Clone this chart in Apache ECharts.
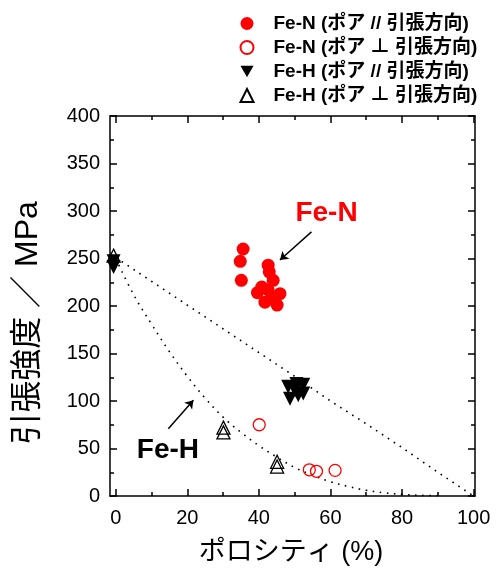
<!DOCTYPE html>
<html>
<head>
<meta charset="utf-8">
<script src="https://cdn.jsdelivr.net/npm/echarts@6/dist/echarts.min.js"></script>
<style>
  html, body { margin: 0; padding: 0; background: #fff; }
  #chart { width: 498px; height: 572px; }
</style>
</head>
<body>
<div id="chart"></div>
<script>
  // 読み取り値 (ポロシティ %, 引張強度 MPa)
  const feNParallel = [
    [35.6, 260], [34.8, 247], [35.1, 227], [42.6, 243], [42.9, 236], [44.0, 227],
    [40.8, 220], [39.6, 214], [42.6, 217], [45.9, 213], [41.7, 204], [45.1, 201], [44.0, 208],
  ];
  const feNPerp = [[40.1, 75], [54.1, 27.6], [56.1, 26], [61.3, 27]];
  const feHParallel = [
    [-0.6, 247], [-0.6, 241], [48.2, 115], [50.5, 118], [52.4, 117], [48.7, 102.5],
    [51.0, 106], [52.4, 108], [50.1, 111],
  ];
  const feHPerp = [[-0.6, 253], [30.1, 72], [30.1, 67], [45.1, 36], [45.1, 31]];

  // 点線 (フィット曲線) — 図から読んだ点
  const fitUpper = [[0, 251], [20, 201], [40, 151], [50, 126], [60, 100], [70, 76], [80, 51], [90, 25], [100, 0]];
  const fitLower = [
    [0, 250], [5, 212], [10, 181], [15, 152], [20, 126], [25, 103], [30, 83], [35, 67], [40, 53],
    [45, 41], [50, 30], [55, 22], [60, 15], [65, 10], [70, 6], [75, 3.4], [80, 1.7], [85, 0.7], [90, 0.2],
  ];

  const xMajorTicks = [0, 20, 40, 60, 80, 100];
  const xMinorTicks = [10, 30, 50, 70, 90];
  const yMinorTicks = [25, 75, 125, 175, 225, 275, 325, 375];

  const legendNames = [
    'Fe-N (ポア // 引張方向)',
    'Fe-N (ポア ⊥ 引張方向)',
    'Fe-H (ポア // 引張方向)',
    'Fe-H (ポア ⊥ 引張方向)',
  ];

  const FONT = '"Liberation Sans", "Noto Sans CJK JP", sans-serif';
  const X_MIN = -1.6;
  const X_MAX = 100.4;

  const makeX = (position, ticks, len, withLine, withLabel) => ({
    type: 'value',
    position,
    min: X_MIN,
    max: X_MAX,
    axisLine: { show: withLine, onZero: false, lineStyle: { color: '#000', width: 1.5 } },
    axisTick: { show: true, inside: true, length: len, customValues: ticks, lineStyle: { color: '#000', width: 1.5 } },
    axisLabel: withLabel
      ? { show: true, customValues: ticks, color: '#000', fontSize: 20, fontFamily: FONT, margin: 12 }
      : { show: false },
    splitLine: { show: false },
  });

  const makeY = (position, withLine, withLabel, minorTicks) => ({
    type: 'value',
    position,
    min: 0,
    max: 400,
    interval: 50,
    axisLine: { show: withLine, onZero: false, lineStyle: { color: '#000', width: 1.5 } },
    axisTick: minorTicks
      ? { show: true, inside: true, length: 4, customValues: minorTicks, lineStyle: { color: '#000', width: 1.5 } }
      : { show: true, inside: true, length: 7, lineStyle: { color: '#000', width: 1.5 } },
    axisLabel: withLabel
      ? { show: true, color: '#000', fontSize: 20, fontFamily: FONT, margin: 10 }
      : { show: false },
    splitLine: { show: false },
  });

  const chart = echarts.init(document.getElementById('chart'));

  chart.setOption({
    animation: false,
    backgroundColor: '#fff',
    textStyle: { fontFamily: FONT },
    grid: { left: 110, right: 23, top: 116, bottom: 76 },
    legend: {
      data: [
        { name: legendNames[0] },
        { name: legendNames[1] },
        { name: legendNames[2], icon: 'path://M0,0L10,0L5,8.7Z' },
        { name: legendNames[3] },
      ],
      orient: 'vertical',
      left: 234.5,
      top: 8,
      itemWidth: 13,
      itemHeight: 13,
      itemGap: 3,
      textStyle: {
        color: '#000', fontSize: 19, fontWeight: 'bold', fontFamily: FONT, lineHeight: 21,
        padding: [0, 0, 0, 15],
      },
      selectedMode: false,
    },
    xAxis: [
      makeX('bottom', xMajorTicks, 7, true, true),
      makeX('bottom', xMinorTicks, 4, false, false),
      makeX('top', xMajorTicks, 7, true, false),
      makeX('top', xMinorTicks, 4, false, false),
    ],
    yAxis: [
      makeY('left', true, true, null),
      makeY('left', false, false, yMinorTicks),
      makeY('right', true, false, null),
      makeY('right', false, false, yMinorTicks),
    ],
    graphic: [
      {
        type: 'text',
        x: 28,
        y: 323,
        rotation: Math.PI / 2,
        style: {
          text: '引張強度 ／ MPa',
          fill: '#000',
          font: '32px ' + FONT,
          align: 'center',
          verticalAlign: 'middle',
        },
      },
      {
        type: 'text',
        x: 291,
        y: 553,
        style: {
          text: 'ポロシティ (%)',
          fill: '#000',
          font: '27px ' + FONT,
          align: 'center',
          verticalAlign: 'middle',
        },
      },
    ],
    series: [
      {
        name: 'fitUpper',
        type: 'line',
        data: fitUpper,
        smooth: false,
        showSymbol: false,
        silent: true,
        lineStyle: { color: '#000', width: 1.6, type: [1.6, 5.5] },
        z: 1,
      },
      {
        name: 'fitLower',
        type: 'line',
        data: fitLower,
        smooth: 0.4,
        showSymbol: false,
        silent: true,
        lineStyle: { color: '#000', width: 1.6, type: [1.6, 5.5] },
        z: 1,
        markLine: {
          silent: true,
          symbol: ['none', 'arrow'],
          symbolSize: 8,
          label: { show: false },
          lineStyle: { color: '#000', width: 1.5, type: 'solid' },
          data: [
            [{ coord: [54.7, 278] }, { coord: [45.9, 248.4] }],
            [{ coord: [14.7, 70.9] }, { coord: [21.7, 100.7] }],
          ],
        },
        markPoint: {
          silent: true,
          symbol: 'circle',
          symbolSize: 0,
          data: [
            {
              coord: [58.9, 298],
              label: { show: true, position: 'inside', formatter: 'Fe-N', color: '#ff0000', fontSize: 28, fontWeight: 'bold', fontFamily: FONT },
            },
            {
              coord: [14.6, 48],
              label: { show: true, position: 'inside', formatter: 'Fe-H', color: '#000', fontSize: 28, fontWeight: 'bold', fontFamily: FONT },
            },
          ],
        },
      },
      {
        name: legendNames[0],
        type: 'scatter',
        data: feNParallel,
        symbol: 'circle',
        symbolSize: 13,
        itemStyle: { color: '#ff0000', opacity: 1 },
        z: 3,
      },
      {
        name: legendNames[1],
        type: 'scatter',
        data: feNPerp,
        symbol: 'circle',
        symbolSize: 12,
        itemStyle: { color: 'rgba(0,0,0,0)', borderColor: '#ff0000', borderWidth: 1.3, opacity: 1 },
        z: 3,
      },
      {
        name: legendNames[2],
        type: 'scatter',
        data: feHParallel,
        symbol: 'triangle',
        symbolRotate: 180,
        symbolSize: 14,
        itemStyle: { color: '#000', opacity: 1 },
        z: 3,
      },
      {
        name: legendNames[3],
        type: 'scatter',
        data: feHPerp,
        symbol: 'triangle',
        symbolSize: 13,
        itemStyle: { color: 'rgba(0,0,0,0)', borderColor: '#000', borderWidth: 1.3, opacity: 1 },
        z: 4,
      },
    ],
  });
</script>
</body>
</html>
